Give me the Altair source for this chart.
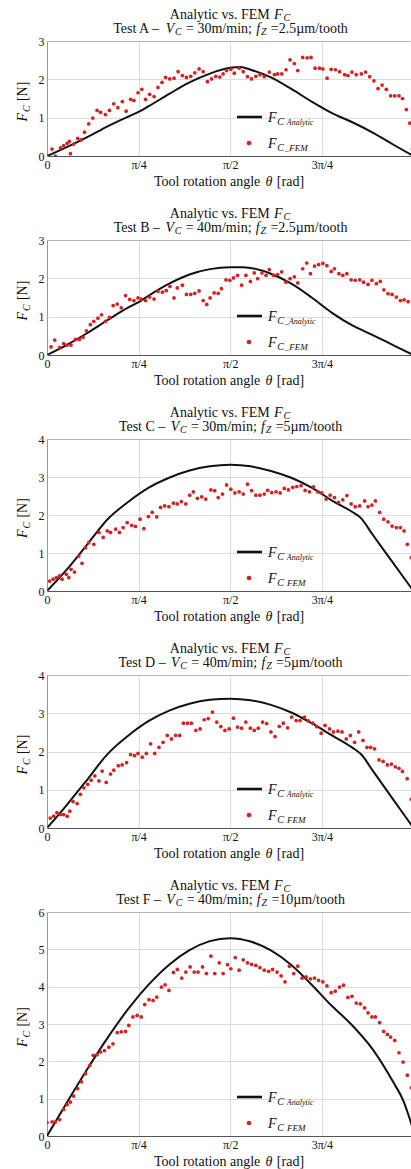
import math
import altair as alt
import pandas as pd

PI = math.pi
SERIF = "Liberation Serif"
INK = "#111111"
RED = "#d32222"

# ---------------- data (angle in degrees, force in N) ----------------
fem_A = [(0.0,0.00),(2.5,0.18),(4.1,0.00),(6.6,0.21),(8.2,0.27),(9.9,0.33),(11.0,0.38),(11.5,0.06),(13.1,0.31),
         (15.1,0.46),(16.8,0.42),(18.4,0.62),(20.5,0.84),(22.5,0.99),(24.6,1.19),(26.3,1.14),(28.7,1.08),(30.7,1.19),
         (32.8,1.36),(34.8,1.26),(37.0,1.42),(38.9,1.17),(41.1,1.48),(42.7,1.45),(44.7,1.65),(46.6,1.74),(48.4,1.48),
         (50.4,1.61),(52.6,1.55),(54.5,1.79),(56.5,1.92),(58.3,2.05),(60.3,2.01),(62.4,2.03),(64.4,2.20),(66.5,2.10),
         (68.5,2.05),(70.6,2.08),(72.6,2.17),(74.7,2.27),(76.7,2.20),(78.8,1.94),(80.8,2.01),(82.9,2.08),(84.9,2.06),
         (86.5,2.14),(88.2,2.23),(90.3,2.26),(92.0,2.16),(94.4,2.29),(96.4,2.20),(98.5,2.07),(100.5,2.01),(102.6,2.08),
         (104.6,2.12),(106.7,2.07),(109.2,2.19),(111.7,2.12),(113.3,2.14),(115.3,2.14),(117.4,2.25),(119.4,2.51),
         (121.5,2.41),(123.2,2.23),(125.6,2.57),(127.8,2.56),(129.7,2.57),(131.7,2.29),(133.8,2.29),(135.5,2.27),
         (137.6,2.03),(139.6,2.26),(141.7,2.25),(143.7,2.20),(146.2,2.12),(147.8,2.10),(149.8,2.19),(151.9,2.12),
         (154.4,2.14),(156.5,2.19),(158.5,2.07),(160.6,1.96),(162.6,1.76),(164.6,1.85),(166.7,1.74),(168.8,1.57),
         (170.8,1.57),(172.9,1.57),(174.6,1.50),(176.5,1.21),(178.2,0.86),(179.5,0.18)]
ana_A = [(0,0.00),(10,0.24),(20,0.50),(30,0.78),(40,1.03),(45,1.15),(50,1.30),(60,1.62),(70,1.92),(80,2.15),
         (90,2.30),(95,2.32),(100,2.25),(110,2.05),(120,1.75),(130,1.42),(140,1.12),(150,0.88),(160,0.61),
         (170,0.30),(180,0.00)]

fem_B = [(0.0,0.00),(2.0,0.21),(3.8,0.39),(6.2,0.19),(8.2,0.30),(9.9,0.26),(11.8,0.26),(14.0,0.41),(15.9,0.41),
         (17.7,0.46),(19.4,0.63),(21.3,0.79),(23.0,0.88),(25.0,0.96),(26.8,1.05),(28.7,0.88),(30.7,0.98),(32.5,1.29),
         (34.5,1.33),(36.5,1.23),(38.6,1.55),(40.6,1.45),(42.7,1.42),(44.7,1.49),(46.3,1.46),(48.4,1.42),(50.4,1.51),
         (52.6,1.46),(54.5,1.66),(56.7,1.64),(58.6,1.68),(60.4,1.79),(62.4,1.49),(64.0,1.75),(66.5,1.82),(68.5,1.58),
         (70.6,1.58),(72.6,1.61),(74.7,1.67),(76.7,1.42),(78.5,1.32),(80.1,1.49),(82.1,1.62),(84.1,1.61),(85.7,1.73),
         (87.9,1.96),(89.8,1.95),(91.6,2.01),(93.6,2.08),(95.6,1.82),(97.7,2.08),(99.9,1.92),(101.8,2.14),(103.5,1.99),
         (105.6,2.14),(107.6,2.08),(109.2,2.23),(111.3,2.08),(113.3,2.10),(115.3,2.17),(117.4,1.90),(119.4,1.99),
         (121.5,2.04),(123.2,1.88),(125.6,2.25),(127.6,2.40),(129.4,2.12),(131.4,2.32),(133.4,2.36),(135.5,2.39),
         (137.5,2.33),(139.6,2.18),(141.2,2.25),(143.4,2.12),(145.3,2.08),(147.3,2.12),(149.4,1.96),(151.4,1.95),
         (153.6,1.96),(155.5,1.90),(157.7,1.84),(159.6,1.95),(161.8,1.86),(163.7,1.92),(165.5,1.70),(167.5,1.60),
         (169.5,1.58),(171.6,1.51),(173.6,1.42),(175.4,1.44),(177.4,1.39)]
ana_B = [(0,0.00),(10,0.27),(20,0.58),(30,0.92),(40,1.24),(45,1.38),(50,1.55),(60,1.86),(70,2.10),(80,2.24),
         (90,2.29),(96,2.29),(100,2.27),(110,2.12),(120,1.86),(130,1.50),(140,1.10),(150,0.77),(160,0.52),
         (170,0.26),(180,0.00)]

fem_C = [(0.0,0.00),(1.3,0.26),(3.0,0.31),(4.6,0.35),(6.2,0.40),(7.4,0.31),(9.5,0.44),(10.7,0.35),(11.8,0.57),
         (13.5,0.50),(15.6,0.92),(17.2,0.73),(18.9,1.14),(20.5,1.27),(23.0,1.23),(25.5,1.54),(27.6,1.41),(29.6,1.58),
         (31.2,1.54),(33.7,1.63),(35.6,1.54),(37.4,1.67),(39.4,1.80),(41.6,1.73),(43.5,1.70),(45.7,1.89),(47.6,1.64),
         (49.8,1.96),(51.7,2.07),(53.9,1.95),(55.8,2.20),(57.8,2.24),(59.9,2.22),(62.1,2.31),(64.0,2.29),(66.0,2.35),
         (68.2,2.29),(70.1,2.52),(71.9,2.61),(73.9,2.44),(76.0,2.48),(78.0,2.42),(80.5,2.66),(82.4,2.64),(84.1,2.46),
         (86.2,2.55),(88.2,2.79),(90.3,2.68),(92.3,2.58),(94.4,2.61),(96.4,2.55),(98.5,2.81),(100.5,2.64),(102.6,2.52),
         (104.6,2.52),(106.7,2.55),(108.4,2.65),(110.4,2.59),(112.5,2.61),(114.5,2.58),(116.6,2.70),(118.6,2.66),
         (120.7,2.73),(122.7,2.75),(124.8,2.77),(126.8,2.65),(128.9,2.61),(130.9,2.74),(133.0,2.61),(135.0,2.58),
         (137.1,2.42),(139.1,2.52),(141.2,2.46),(143.2,2.33),(145.3,2.40),(147.3,2.51),(149.4,2.29),(151.4,2.22),
         (153.6,2.24),(156.0,2.37),(157.7,2.22),(159.6,2.26),(161.3,2.37),(163.4,2.07),(165.4,1.89),(167.5,1.82),
         (169.5,1.71),(171.6,1.67),(173.6,1.67),(175.4,1.58),(177.0,1.23),(179.0,0.88)]
ana_C = [(0,0.00),(10,0.58),(20,1.24),(30,1.90),(40,2.35),(50,2.72),(60,2.98),(70,3.17),(80,3.28),(90,3.32),
         (100,3.28),(110,3.16),(120,2.98),(130,2.72),(140,2.38),(150,2.08),(154,1.93),(160,1.48),(170,0.74),
         (180,0.00)]

fem_D = [(0.0,0.00),(1.6,0.26),(3.3,0.31),(4.9,0.40),(6.6,0.35),(8.2,0.35),(9.9,0.31),(11.2,0.44),(12.8,0.69),
         (14.8,0.64),(16.4,0.88),(18.1,1.05),(20.0,1.14),(21.7,1.25),(23.5,1.36),(25.5,1.23),(27.1,1.49),(29.1,1.19),
         (31.2,1.41),(32.8,1.51),(35.0,1.63),(36.9,1.65),(39.1,1.71),(41.1,1.92),(43.0,1.89),(44.7,1.95),(46.8,1.85),
         (48.8,1.95),(50.9,2.20),(52.9,1.95),(55.0,2.11),(57.0,2.24),(59.1,2.42),(61.1,2.33),(63.2,2.42),(65.2,2.42),
         (67.0,2.74),(69.0,2.74),(70.9,2.74),(73.1,2.55),(75.2,2.59),(77.2,2.83),(79.2,2.86),(81.3,3.03),(83.4,2.77),
         (85.4,2.65),(87.4,2.55),(89.5,2.59),(91.6,2.87),(93.6,2.64),(95.6,2.61),(97.7,2.77),(99.9,2.61),(101.8,2.55),
         (103.8,2.61),(105.9,2.77),(107.9,2.73),(110.0,2.51),(112.0,2.39),(114.1,2.66),(116.1,2.74),(118.2,2.62),
         (120.2,2.90),(122.4,2.81),(124.3,2.81),(126.5,2.90),(128.4,2.80),(130.6,2.74),(132.5,2.65),(134.7,2.48),
         (136.6,2.68),(138.8,2.59),(140.7,2.51),(142.9,2.53),(144.9,2.51),(147.0,2.33),(149.0,2.42),(151.1,2.24),
         (153.1,2.51),(155.2,2.29),(157.2,2.11),(159.0,2.11),(160.9,2.07),(163.1,1.78),(165.1,1.74),(167.2,1.65),
         (169.2,1.67),(171.1,1.60),(172.9,1.56),(174.6,1.48),(176.9,1.29),(179.0,0.75)]
ana_D = [(0,0.00),(10,0.62),(20,1.28),(29.5,1.92),(40,2.42),(50,2.80),(60,3.07),(70,3.25),(80,3.35),(90,3.38),
         (100,3.34),(110,3.22),(120,3.02),(130,2.74),(140,2.42),(150,2.10),(154.4,1.92),(160,1.50),(170,0.75),
         (180,0.00)]

fem_F = [(0.0,0.36),(2.5,0.38),(4.1,0.38),(6.2,0.44),(8.2,0.71),(9.9,0.84),(11.5,0.91),(13.1,1.07),(15.1,1.27),
         (16.9,1.45),(18.9,1.67),(21.0,1.89),(22.7,2.16),(24.6,2.18),(26.3,2.25),(28.2,2.29),(30.4,2.38),(32.4,2.47),
         (34.5,2.77),(36.5,2.79),(38.6,2.80),(40.2,2.96),(42.2,3.19),(44.3,3.23),(46.3,3.19),(48.0,3.52),(50.1,3.65),
         (52.1,3.63),(53.9,3.72),(56.2,3.99),(58.0,4.05),(59.9,3.90),(62.1,4.38),(64.0,4.46),(66.2,4.23),(68.2,4.39),
         (70.3,4.53),(72.3,4.39),(74.2,4.39),(76.4,4.53),(78.3,4.35),(80.5,4.82),(82.4,4.35),(84.6,4.64),(86.5,4.35),
         (88.7,4.59),(90.3,4.48),(92.5,4.78),(94.4,4.44),(96.4,4.72),(98.5,4.64),(100.5,4.60),(102.6,4.57),(104.6,4.51),
         (106.7,4.44),(108.9,4.41),(110.8,4.46),(113.0,4.39),(115.0,4.29),(116.9,4.13),(119.1,4.55),(121.2,4.35),
         (123.2,4.55),(125.3,4.23),(127.3,4.26),(129.4,4.21),(131.4,4.23),(133.4,4.17),(135.5,4.13),(137.5,4.02),
         (139.6,3.84),(141.6,3.88),(143.7,3.99),(145.7,4.04),(147.8,3.71),(149.8,3.74),(151.9,3.56),(153.9,3.54),
         (156.0,3.43),(157.7,3.30),(159.6,3.19),(161.3,3.19),(163.4,3.04),(165.4,2.80),(167.2,2.72),(168.8,2.65),
         (170.8,2.56),(172.9,2.23),(174.9,1.98),(177.0,1.63),(179.0,1.29)]
ana_F = [(0,0.00),(10,0.92),(20,1.81),(30,2.65),(40,3.41),(50,4.06),(60,4.59),(70,4.98),(80,5.22),(90,5.30),
         (100,5.21),(110,4.97),(120,4.58),(130,4.05),(140,3.48),(150,2.96),(160,2.32),(170,1.45),(175,0.95),
         (180,0.15)]

test_names = ["A", "B", "C", "D", "F"]
cut_speeds = ["30", "40", "30", "40", "40"]
feeds = ["2.5", "2.5", "5", "5", "10"]
y_max = [3, 3, 4, 4, 6]
legend_analytic = [" Analytic", "_Analytic", " Analytic", " Analytic", " Analytic"]
legend_fem = ["_FEM", "_FEM", " FEM", " FEM", " FEM"]
x_tick_labels = ["0", "π/4", "π/2", "3π/4"]

# ---------------- layout ----------------
PANEL_W = 364
PANEL_H = [115, 115, 152, 153, 224]
SPACING = 84.0
X_MAX = 178.8 * PI / 180  # right edge of the visible window

REG = {' ': 250, '.': 250, '/': 278, ';': 278, '=': 564, '[': 333, ']': 333, '_': 500, '–': 500, 'µ': 500,
       'θ': 500, 'A': 722, 'B': 667, 'C': 667, 'D': 722, 'E': 611, 'F': 556, 'M': 889, 'N': 722, 'T': 611,
       'a': 444, 'c': 444, 'd': 500, 'e': 444, 'g': 500, 'h': 500, 'i': 278, 'l': 278, 'm': 778, 'n': 500,
       'o': 500, 'r': 333, 's': 389, 't': 278, 'v': 500, 'y': 500}
ITA = {' ': 250, '_': 500, 'θ': 500, 'A': 611, 'C': 667, 'E': 611, 'F': 611, 'M': 833, 'V': 611, 'Z': 556,
       'a': 500, 'c': 444, 'f': 278, 'i': 278, 'l': 278, 'n': 500, 't': 278, 'y': 444}


def tw(s, size, italic):
    tbl = ITA if italic else REG
    return sum(tbl.get(ch, 500) for ch in s) * size / 1000.0


ONE = alt.Data(values=[{"k": 0}])
GAP = 0.8  # tiny gap between composed pieces


def rich(pieces, x, y, mode):
    """pieces: (text, fontSize, italic, baseline shift). mode: center | left | up"""
    total = sum(tw(t, s, it) for t, s, it, d in pieces) + GAP * (len(pieces) - 1)
    out = []
    pos = 0.0
    for t, s, it, d in pieces:
        body = t.lstrip(' ')
        lead = tw(t[:len(t) - len(body)], s, it)
        body = body.rstrip(' ')
        p = pos + lead
        if body:
            if mode == "center":
                px, py, ang = x - total / 2 + p, y + d, 0
            elif mode == "left":
                px, py, ang = x + p, y + d, 0
            else:
                px, py, ang = x + d, y + total / 2 - p, 270
            out.append(
                alt.Chart(ONE).mark_text(
                    text=body, font=SERIF, fontSize=s, fontStyle="italic" if it else "normal",
                    align="left", baseline="alphabetic", angle=ang, color=INK
                ).encode(x=alt.value(px), y=alt.value(py))
            )
        pos += tw(t, s, it) + GAP
    return out


def panel(i, fem, ana, first):
    h = PANEL_H[i]
    ym = y_max[i]
    df_fem = pd.DataFrame(fem, columns=["deg", "F"])
    df_fem["theta"] = df_fem["deg"] * PI / 180
    df_ana = pd.DataFrame(ana, columns=["deg", "F"])
    df_ana["theta"] = df_ana["deg"] * PI / 180

    xenc = alt.X("theta:Q",
                 scale=alt.Scale(domain=[0, X_MAX], nice=False, zero=False),
                 axis=alt.Axis(values=[0, PI / 4, PI / 2, 3 * PI / 4], title=None, ticks=False, grid=True,
                               labelFlush=False, labelPadding=3, domainColor="#555",
                               labelExpr="datum.value < 0.1 ? '%s' : datum.value < 1 ? '%s' : datum.value < 2 ? '%s' : '%s'"
                               % tuple(x_tick_labels)))
    yenc = alt.Y("F:Q",
                 scale=alt.Scale(domain=[0, ym], nice=False),
                 axis=alt.Axis(values=list(range(ym + 1)), format="d", title=None, ticks=False, grid=True,
                               labelPadding=3, domainColor="#999"))

    line = alt.Chart(df_ana).mark_line(color=INK, strokeWidth=2, clip=True, interpolate="monotone").encode(
        x=xenc, y=yenc)
    pts = alt.Chart(df_fem).mark_circle(color=RED, size=14, opacity=1, clip=True).encode(x=xenc, y=yenc)

    layers = [line, pts]
    # top frame
    layers.append(alt.Chart(ONE).mark_rule(color="#b5b5b5", strokeWidth=1).encode(
        x=alt.value(0), x2=alt.value(PANEL_W - 1), y=alt.value(0.5)))
    # legend
    ly = h - 39
    dy_ = h - 13
    layers.append(alt.Chart(ONE).mark_rule(color=INK, strokeWidth=2.6).encode(
        x=alt.value(190), x2=alt.value(215), y=alt.value(ly)))
    layers.append(alt.Chart(ONE).mark_circle(color=RED, size=22, opacity=1).encode(
        x=alt.value(202), y=alt.value(dy_)))
    layers += rich([("F", 14, True, 0), ("C", 10, True, 3), (legend_analytic[i], 8, True, 3)], 221, ly + 4.5, "left")
    layers += rich([("F", 14, True, 0), ("C", 10, True, 3), (legend_fem[i], 9, True, 3)], 221, dy_ + 4.5, "left")
    # titles
    layers += rich([("Analytic vs. FEM ", 14, False, 0), ("F", 14, True, 0), ("C", 10, True, 2.5)],
                   183, -22.3, "center")
    layers += rich([("Test %s – " % test_names[i], 14, False, 0), ("V", 14, True, 0), ("C", 10, True, 2.5),
                    (" = %sm/min; " % cut_speeds[i], 14, False, 0), ("f", 14, True, 0), ("Z", 10, True, 2.5),
                    (" =%sµm/tooth" % feeds[i], 14, False, 0)], 183, -8.5, "center")
    # axis titles
    layers += rich([("Tool rotation angle ", 14, False, 0), ("θ", 14, True, 0), (" [rad]", 14, False, 0)],
                   182, h + 29.5, "center")
    layers += rich([("F", 14, True, 0), ("C", 10, True, 3), (" [N]", 14, False, 0)], -20.5, h / 2 + 3, "up")
    if first:
        layers.append(alt.Chart(ONE).mark_rule(color="white", strokeWidth=1).encode(
            x=alt.value(-46.5), x2=alt.value(-45), y=alt.value(-40)))
    return alt.layer(*layers).properties(width=PANEL_W, height=h)


fems = [fem_A, fem_B, fem_C, fem_D, fem_F]
anas = [ana_A, ana_B, ana_C, ana_D, ana_F]
panels = [panel(i, fems[i], anas[i], i == 0) for i in range(5)]

chart = alt.vconcat(*panels, spacing=SPACING, bounds="flush").properties(
    padding=0, background="white"
).configure_view(stroke=None).configure_axis(
    labelFont=SERIF, labelFontSize=12, labelColor=INK, gridColor="#dddddd", gridWidth=1, domainWidth=1
)

chart.save("out.html", embed_options={"renderer": "svg", "actions": False})
